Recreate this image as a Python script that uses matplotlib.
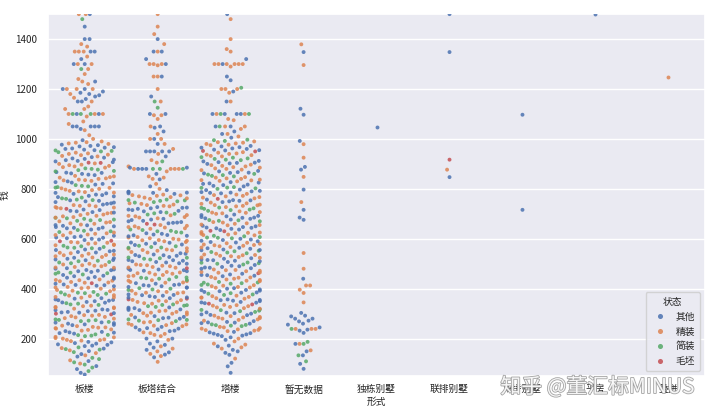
import numpy as np
import pandas as pd
import matplotlib
matplotlib.use("Agg")
import matplotlib.pyplot as plt
import matplotlib.patheffects as pe
import seaborn as sns

FORMS = ["板楼", "板塔结合", "塔楼", "暂无数据", "独栋别墅", "联排别墅", "双拼别墅", "平房", "叠拼"]
STATUS = ["其他", "精装", "简装", "毛坯"]   # codes 0..3 below

# dense middle of the three big groups: number of listings per 10-unit price bin
BIN_WIDTH = 10
BANLOU_BODY_START = 170
BANLOU_BODY = [4, 4, 5, 4, 5, 5, 4, 5, 5, 5, 5, 4, 5, 5, 5, 5, 4, 5, 5, 5,
               5, 5, 4, 5, 5, 5, 5, 5, 4, 5, 5, 5, 5, 4, 5, 5, 5, 5, 4, 5,
               5, 5, 4, 5, 5, 5, 4, 5, 5, 4, 5, 5, 4, 5, 4, 5, 5, 4, 5, 4,
               4, 5, 4, 5, 4, 4, 5, 4, 4, 5, 4, 4, 4, 5, 4, 4, 4, 4, 5, 4,
               4, 4]
BANTA_BODY_START = 230
BANTA_BODY = [4, 4, 5, 4, 5, 5, 4, 5, 5, 5, 5, 4, 5, 5, 5, 5, 4, 5, 5, 5,
              5, 5, 4, 5, 5, 5, 5, 4, 5, 5, 5, 4, 5, 5, 4, 5, 5, 4, 5, 4,
              4, 5, 4, 5, 4, 4, 5, 4, 4, 5, 4, 4, 5, 4, 5, 6]
TALOU_BODY_START = 210
TALOU_BODY = [4, 4, 5, 4, 5, 5, 4, 5, 5, 5, 5, 4, 5, 5, 5, 5, 4, 5, 5, 5,
              5, 5, 4, 5, 5, 5, 5, 5, 4, 5, 5, 5, 5, 4, 5, 5, 5, 5, 4, 5,
              5, 5, 4, 5, 5, 4, 5, 5, 4, 5, 4, 5, 5, 4, 5, 4, 4, 5, 4, 5,
              4, 4, 5, 4, 4, 5, 4, 4, 4, 5, 4, 4, 4, 4, 5, 4, 4, 4, 4]
# where the listings sit inside a bin, and runs of status along the sorted prices
BIN_OFFSETS = [0, 5, 2, 7, 4, 9, 1, 6, 3, 8]
BODY_STATUS_RUNS = [(0, 8), (1, 9), (2, 5), (0, 6), (1, 10), (0, 7), (2, 6), (1, 8),
                    (3, 2), (0, 9), (1, 7), (2, 4), (0, 10), (1, 6), (2, 7), (1, 9),
                    (0, 6), (3, 1), (1, 8), (0, 8), (2, 5)]

# sparse tails and small groups: (price, status code)
BANLOU_LOW = [(56, 0), (63, 0), (70, 2), (78, 0), (84, 2), (90, 0), (96, 2), (100, 1),
              (105, 2), (110, 0), (113, 1), (118, 2), (123, 2), (128, 0), (133, 1),
              (138, 0), (142, 1), (146, 2), (150, 0), (153, 1), (156, 2), (158, 2),
              (160, 0), (162, 1), (165, 2)]
BANLOU_TOP = [(1500, 0), (1500, 1), (1500, 1), (1480, 2), (1450, 0), (1400, 0), (1400, 0),
              (1380, 1), (1370, 1), (1350, 1), (1350, 0), (1350, 1), (1350, 0), (1350, 1),
              (1330, 1), (1320, 0), (1300, 0), (1300, 0), (1300, 1), (1300, 1), (1280, 2),
              (1280, 1), (1260, 1), (1240, 1), (1230, 1), (1230, 0), (1220, 1), (1200, 0),
              (1200, 1), (1200, 1), (1200, 1), (1200, 0), (1190, 0), (1185, 0), (1180, 0),
              (1180, 1), (1175, 0), (1170, 0), (1165, 1), (1160, 0), (1150, 1), (1150, 0),
              (1150, 0), (1130, 1), (1120, 1), (1120, 1), (1100, 0), (1100, 1), (1100, 2),
              (1100, 2), (1100, 0), (1100, 1), (1100, 1), (1100, 2), (1090, 1), (1070, 1),
              (1060, 1), (1050, 0), (1050, 0), (1050, 0), (1050, 0), (1050, 0), (1040, 0),
              (1035, 1), (1015, 1), (1000, 1), (995, 0), (990, 1)]
BANTA_LOW = [(107, 1), (125, 0), (130, 1), (136, 0), (139, 1), (145, 0), (149, 1), (155, 0),
             (160, 1), (164, 0), (169, 1), (175, 0), (180, 0), (189, 0), (195, 1), (200, 0),
             (200, 0), (210, 1), (215, 1), (219, 1), (222, 1), (225, 1)]
BANTA_TOP = [(1500, 1), (1450, 1), (1420, 1), (1400, 0), (1380, 1), (1350, 0), (1350, 0),
             (1350, 1), (1320, 0), (1300, 0), (1300, 1), (1300, 1), (1300, 1), (1295, 1),
             (1250, 1), (1250, 1), (1250, 0), (1200, 1), (1170, 0), (1150, 2), (1150, 1),
             (1125, 2), (1100, 0), (1100, 0), (1095, 1), (1095, 1), (1080, 1), (1050, 1),
             (1050, 0), (1045, 0), (1030, 0), (1020, 1), (1000, 0), (1000, 1), (1000, 1),
             (980, 1), (980, 0), (960, 1), (950, 0), (950, 0), (950, 0), (950, 0), (950, 0),
             (940, 1), (930, 0), (915, 1), (910, 2), (905, 1), (890, 1), (885, 0), (885, 0),
             (880, 1), (880, 1), (880, 1), (880, 0), (880, 0), (880, 1), (880, 0), (880, 2),
             (880, 2), (880, 2), (870, 1), (860, 0), (850, 1), (845, 1), (840, 1), (838, 0),
             (820, 1), (810, 0), (800, 1), (795, 0)]
TALOU_LOW = [(63, 0), (89, 0), (103, 0), (120, 1), (135, 0), (143, 0), (149, 0), (155, 0),
             (160, 1), (165, 1), (169, 0), (172, 0), (176, 1), (180, 1), (189, 1), (195, 0),
             (200, 1), (205, 0)]
TALOU_TOP = [(1500, 0), (1480, 1), (1400, 1), (1360, 1), (1350, 1), (1320, 0), (1300, 1),
             (1300, 1), (1300, 0), (1300, 1), (1300, 1), (1300, 1), (1300, 1), (1290, 1),
             (1250, 0), (1235, 0), (1205, 2), (1200, 1), (1200, 1), (1200, 1), (1190, 0),
             (1185, 1), (1150, 0), (1150, 1), (1100, 1), (1100, 0), (1100, 0), (1100, 1),
             (1100, 2), (1100, 2), (1100, 0), (1100, 0), (1080, 1), (1075, 1), (1050, 1),
             (1050, 0), (1050, 2), (1050, 0), (1050, 1), (1040, 1), (1030, 0), (1020, 1),
             (1020, 0), (1010, 1), (1005, 0)]
ZANWU = [(1379, 1), (1348, 0), (1296, 1), (1121, 0), (1097, 0), (992, 0), (979, 1), (925, 1),
         (888, 0), (877, 0), (848, 1), (797, 0), (747, 1), (716, 0), (685, 0), (676, 0),
         (543, 1), (480, 1), (440, 0), (413, 1), (413, 1), (396, 1), (383, 1), (345, 1),
         (303, 0), (292, 0), (289, 0), (280, 0), (280, 0), (272, 0), (269, 0), (260, 0),
         (256, 0), (245, 0), (239, 1), (239, 1), (239, 1), (239, 2), (236, 0), (232, 0),
         (223, 0), (187, 2), (179, 1), (179, 2), (179, 0), (153, 1), (149, 0), (133, 0),
         (133, 2), (109, 2), (99, 0), (79, 0)]
DUDONG = [(1048, 0)]
LIANPAI = [(1500, 0), (1348, 0), (917, 3), (877, 1), (847, 0)]
SHUANGPIN = [(1097, 0), (716, 0)]
PINGFANG = [(1500, 0)]
DIEPIN = [(1247, 1)]

# the swarm was laid out over the full price range, then the view was cut to 50-1500
SWARM_YLIM = (50, 3530)
VIEW_YLIM = (50, 1500)


def body_points(start, counts):
    prices = []
    for i, n in enumerate(counts):
        lo = start + i * BIN_WIDTH
        prices += [lo + BIN_OFFSETS[k % len(BIN_OFFSETS)] for k in range(n)]
    prices.sort()
    cycle = [s for s, n in BODY_STATUS_RUNS for _ in range(n)]
    return [(p, cycle[j % len(cycle)]) for j, p in enumerate(prices)]


groups = {
    "板楼": BANLOU_LOW + body_points(BANLOU_BODY_START, BANLOU_BODY) + BANLOU_TOP,
    "板塔结合": BANTA_LOW + body_points(BANTA_BODY_START, BANTA_BODY) + BANTA_TOP,
    "塔楼": TALOU_LOW + body_points(TALOU_BODY_START, TALOU_BODY) + TALOU_TOP,
    "暂无数据": ZANWU, "独栋别墅": DUDONG, "联排别墅": LIANPAI,
    "双拼别墅": SHUANGPIN, "平房": PINGFANG, "叠拼": DIEPIN,
}
rows = [(form, price, STATUS[s]) for form, pts in groups.items() for price, s in pts]
df = pd.DataFrame(rows, columns=["形式", "钱", "状态"])

sns.set_theme(style="darkgrid")
plt.rcParams["font.family"] = ["Noto Sans CJK SC", "DejaVu Sans"]

fig, ax = plt.subplots(figsize=(7.2, 4.16), dpi=100)
fig.subplots_adjust(left=0.067, right=0.979, top=0.966, bottom=0.096)
sns.swarmplot(data=df, x="形式", y="钱", hue="状态", order=FORMS, hue_order=STATUS,
              palette="deep", size=2.8, alpha=0.85, ax=ax, warn_thresh=1)

# lay the swarm out once on the wide range, then freeze it before zooming in
ax.set_ylim(*SWARM_YLIM)
fig.canvas.draw()
for coll in ax.collections:
    if "draw" in coll.__dict__:
        del coll.draw
ax.set_ylim(*VIEW_YLIM)

ax.set_yticks([200, 400, 600, 800, 1000, 1200, 1400])
ax.tick_params(axis="y", labelsize=7, pad=2)
ax.tick_params(axis="x", labelsize=7, pad=0)
ax.set_xlabel("形式", fontsize=7, labelpad=2)
ax.set_ylabel("钱", fontsize=7, labelpad=4)
ax.legend(title="状态", loc="lower right", fontsize=7, title_fontsize=7,
          markerscale=1.3, borderpad=0.5, handletextpad=0.6)

fig.text(0.695, 0.055, "知乎 @董汇标MINUS", fontsize=15, color="white", alpha=0.9,
         path_effects=[pe.withStroke(linewidth=1.2, foreground="#9a9a9a")])

fig.savefig("out.png", dpi=100)
plt.close(fig)
